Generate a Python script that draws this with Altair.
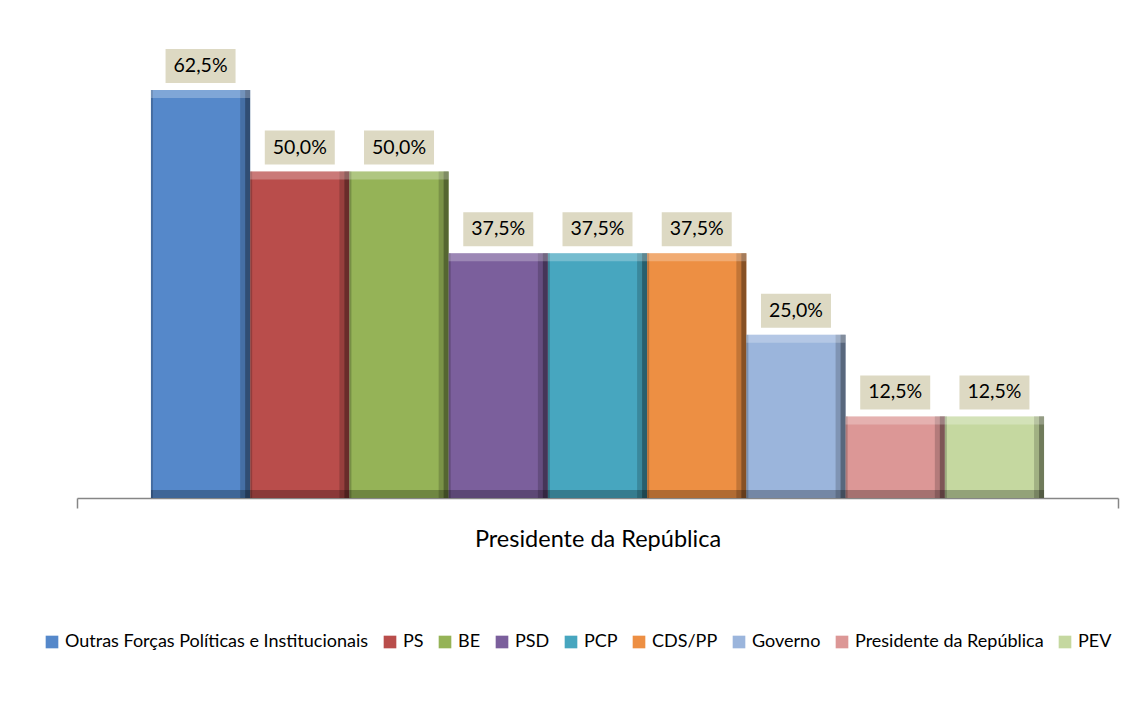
import altair as alt
import pandas as pd

category = ["Presidente da República"]
series = ["Outras Forças Políticas e Institucionais", "PS", "BE", "PSD", "PCP",
          "CDS/PP", "Governo", "Presidente da República", "PEV"]
values = [62.5, 50.0, 50.0, 37.5, 37.5, 37.5, 25.0, 12.5, 12.5]
colors = ["#5588CA", "#B94D4B", "#95B357", "#7B5F9C", "#47A6BF",
          "#ED8F43", "#9BB5DC", "#DC9796", "#C5D8A0"]

df = pd.DataFrame({
    "series": series,
    "value": values,
    "label": [f"{v:.1f}%".replace(".", ",") for v in values],
    "base": [0.0] * len(series),
})
df_cat = pd.DataFrame({"cat": category})

FONT = "Lato"

x_enc = alt.X("series:N", sort=series,
              scale=alt.Scale(paddingInner=0, paddingOuter=0.745), axis=None)
y_enc = alt.Y("value:Q", scale=alt.Scale(domain=[0, 74.3], nice=False),
              axis=alt.Axis(title=None, labels=False, ticks=False, domain=False,
                            grid=False, minExtent=64, maxExtent=64))

base = alt.Chart(df)

bars = base.mark_bar().encode(
    x=x_enc, y=y_enc,
    color=alt.Color("series:N", sort=series,
                    scale=alt.Scale(domain=series, range=colors),
                    legend=alt.Legend(title=None, orient="none", legendX=-34, legendY=620,
                                      direction="horizontal",
                                      labelFont=FONT, labelFontSize=18, labelColor="#000000",
                                      labelLimit=500, labelOffset=4, columnPadding=12,
                                      symbolType="square", symbolSize=160)),
)

right_shade = base.mark_bar(color="#000000", opacity=0.18, width=10, xOffset=44.6).encode(
    x=x_enc, y=y_enc)
right_edge = base.mark_bar(color="#000000", opacity=0.3, width=5, xOffset=47.1).encode(
    x=x_enc, y=y_enc)
left_edge = base.mark_bar(color="#000000", opacity=0.2, width=2, xOffset=-48.6).encode(
    x=x_enc, y=y_enc)

top_bevel = base.mark_rect(color="#ffffff", opacity=0.25, y2Offset=8).encode(
    x=x_enc, y=y_enc, y2=alt.Y2("value:Q"))

bottom_bevel = base.mark_rect(color="#000000", opacity=0.25, yOffset=-8).encode(
    x=x_enc, y=alt.Y("base:Q"), y2=alt.Y2("base:Q"))

label_box = base.mark_bar(color="#DDD9C3", width=70, yOffset=-41, y2Offset=-7).encode(
    x=x_enc, y=y_enc, y2=alt.Y2("value:Q"))

label_text = base.mark_text(
    dy=-24, baseline="middle", align="center", font=FONT, fontSize=19.5, color="#000000",
).encode(x=x_enc, y=y_enc, text="label:N")

main = alt.layer(bars, right_shade, right_edge, left_edge, top_bevel, bottom_bevel,
                 label_box, label_text)

cat_axis = alt.Chart(df_cat).mark_rule(opacity=0).encode(
    x=alt.X("cat:N", scale=alt.Scale(paddingInner=0, paddingOuter=0),
            axis=alt.Axis(title=None, orient="bottom", labelAngle=0, labelFont=FONT,
                          labelFontSize=23.5, labelColor="#000000", labelLimit=600,
                          domainColor="#868686", domainWidth=1.5, tickColor="#868686",
                          tickWidth=1.5, tickSize=10, tickBand="extent",
                          labelPadding=19, grid=False)),
)

chart = alt.layer(cat_axis, main).resolve_scale(x="independent").properties(
    width=1041, height=485,
).configure_view(strokeWidth=0)

chart.save("out.html", embed_options={"renderer": "svg", "actions": False})
